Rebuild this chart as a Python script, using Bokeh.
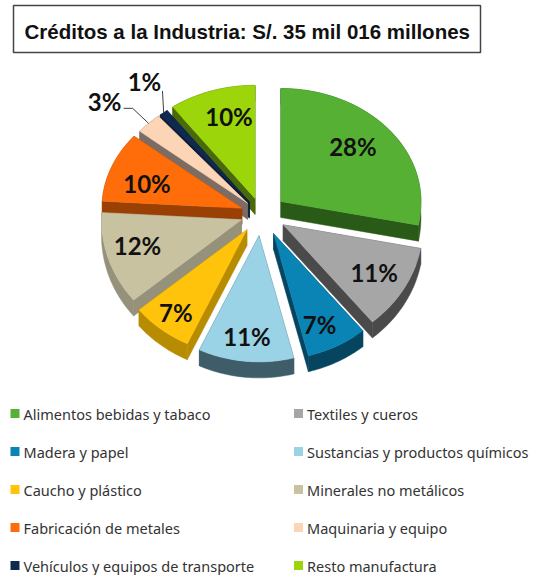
import numpy as np
from bokeh.embed import file_html
from bokeh.resources import INLINE
from bokeh.plotting import figure
from bokeh.models import Range1d
from bokeh.core.properties import value

# ---- data ----
categories = ["Alimentos bebidas y tabaco", "Textiles y cueros", "Madera y papel",
              "Sustancias y productos químicos", "Caucho y plástico", "Minerales no metálicos",
              "Fabricación de metales", "Maquinaria y equipo",
              "Vehículos y equipos de transporte", "Resto manufactura"]
shares = [28, 11, 7, 11, 7, 12, 10, 3, 1, 10]
title = "Créditos a la Industria: S/. 35 mil 016 millones"

# ---- style / layout ----
top_colors = ["#55B033", "#A6A6A6", "#0A84B5", "#9AD3E6", "#FFC30B", "#C8C2A0",
              "#FF6C0A", "#FBD5B5", "#10294F", "#9BD50A"]
side_colors = ["#2A5A17", "#4A4A4A", "#05455F", "#3F5D69", "#B88C00", "#96917A",
               "#9A4005", "#7B6D63", "#0A1B35", "#4A6A0A"]
explode = [0.18, 0.18, 0.19, 0.19, 0.17, 0.15, 0.15, 0.14, 0.14, 0.15]
label_offset = [(72, -55), (91, 48), (46, 91), (-12, 101), (-71, 83), (-104, 26),
                (-95, -25), (-143, -102), (-105, -120), (-26, -82)]
CX, CY, RX, RY_FAR, RY_NEAR, DEPTH = 261, 214, 140, 113, 126, 16

p = figure(width=539, height=575, output_backend="svg", toolbar_location=None,
           x_range=Range1d(0, 539), y_range=Range1d(575, 0), min_border=0)
p.axis.visible = False
p.grid.visible = False
p.outline_line_color = None
p.background_fill_color = "white"


def rim_y(theta):
    c = np.cos(theta)
    return -np.where(c > 0, RY_FAR, RY_NEAR) * c


ends = np.cumsum(shares) / np.sum(shares) * 360.0
starts = np.r_[0.0, ends[:-1]]
mids = (starts + ends) / 2
apex_x = CX + np.array(explode) * RX * np.sin(np.radians(mids))
apex_y = CY - np.array(explode) * RY_FAR * np.cos(np.radians(mids))

xs, ys, cols = [], [], []
for i in np.argsort(np.cos(np.radians(mids)))[::-1]:
    th = np.radians(np.linspace(starts[i], ends[i], int(ends[i] - starts[i]) + 3))
    ax, ay = apex_x[i], apex_y[i]
    ox = ax + RX * np.sin(th)
    oy = ay + rim_y(th)
    # radial sides
    for e in (0, -1):
        xs.append([ax, ox[e], ox[e], ax])
        ys.append([ay, oy[e], oy[e] + DEPTH, ay + DEPTH])
        cols.append(side_colors[i])
    # outer rim
    xs.append(list(ox) + list(ox[::-1]))
    ys.append(list(oy) + list(oy[::-1] + DEPTH))
    cols.append(side_colors[i])
    # top face
    xs.append([ax] + list(ox))
    ys.append([ay] + list(oy))
    cols.append(top_colors[i])
p.patches(xs, ys, fill_color=cols, line_color=cols, line_width=0.5)

# leader lines for the two small slices
lx = [apex_x[i] + label_offset[i][0] for i in range(10)]
ly = [apex_y[i] + label_offset[i][1] for i in range(10)]
rim7 = (apex_x[7] + RX * np.sin(np.radians(mids[7])), apex_y[7] + rim_y(np.radians(mids[7])))
rim8 = (apex_x[8] + RX * np.sin(np.radians(mids[8])), apex_y[8] + rim_y(np.radians(mids[8])))
p.multi_line([[lx[7] + 19, lx[7] + 28, rim7[0]], [lx[8] + 18, rim8[0]]],
             [[ly[7] + 7, ly[7] + 7, rim7[1]], [ly[8] + 9, rim8[1]]],
             line_color="#404040", line_width=1)

p.text(lx, ly, text=[f"{v}%" for v in shares], text_font=value("Lato"), text_font_style="bold",
       text_font_size="24px", text_color="#111111", text_align="center", text_baseline="middle")

# title box
p.quad(left=[13], right=[480], top=[5], bottom=[52], fill_color="white", line_color="#444444", line_width=1.5)
p.text([24], [30.5], text=[title], text_font=value("Liberation Sans"), text_font_style="bold",
       text_font_size="20.5px", text_color="#111111", text_align="left", text_baseline="middle")

# legend
swatch_x = [14.5, 298]
text_x = [23, 306.5]
row_y = [413, 451, 489, 527, 565]
sx = [swatch_x[i % 2] for i in range(10)]
tx = [text_x[i % 2] for i in range(10)]
sy = [row_y[i // 2] for i in range(10)]
p.rect(sx, sy, width=9, height=9, fill_color=top_colors, line_color=None)
p.text(tx, sy, text=categories, text_font=value("Noto Sans"),
       text_font_size="14.5px", text_color="#333333", text_align="left", text_baseline="middle")

open("out.html", "w").write(file_html(p, INLINE))
